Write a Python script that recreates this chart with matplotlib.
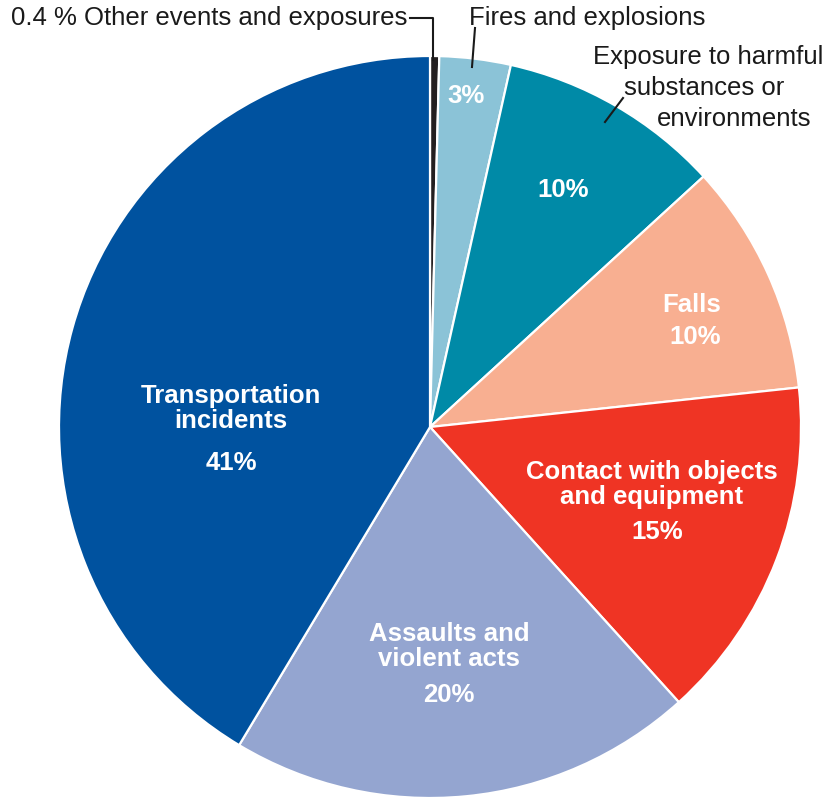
import matplotlib.pyplot as plt

# Fatal work injuries by event (share of total, %)
categories = ['Other events and exposures', 'Fires and explosions',
              'Exposure to harmful substances or environments', 'Falls',
              'Contact with objects and equipment', 'Assaults and violent acts',
              'Transportation incidents']
values = [0.4, 3.1, 9.7, 10.1, 15.0, 20.3, 41.4]
pct_labels = ['0.4 %', '3%', '10%', '10%', '15%', '20%', '41%']
colors = ['#231f20', '#8bc3d7', '#008aa7', '#f8af91', '#ef3424', '#94a5d0', '#00529f']

plt.rcParams['font.family'] = ['Liberation Sans', 'DejaVu Sans']

W, H = 831, 797
fig = plt.figure(figsize=(W / 100, H / 100), dpi=100)
ax = fig.add_axes([0, 0, 1, 1])

def py(y):
    # pixel row -> data y
    return H - y

cx, cy, r = 430, 427, 371
ax.pie(values, colors=colors, startangle=90, counterclock=False,
       center=(cx, py(cy)), radius=r, frame=True,
       wedgeprops=dict(edgecolor='white', linewidth=1.6))
ax.set_xlim(0, W)
ax.set_ylim(0, H)
ax.set_aspect('equal')
ax.axis('off')

fs = 18.5
bold = dict(color='white', fontsize=fs, fontweight='bold', ha='center', va='center')
reg = dict(color='#1a1a1a', fontsize=fs, va='center')

# labels inside the slices
ax.text(466, py(96), pct_labels[1], **bold)
ax.text(563, py(190), pct_labels[2], **bold)
ax.text(692, py(305), 'Falls', **bold)
ax.text(695, py(337), pct_labels[3], **bold)
ax.text(652, py(472), 'Contact with objects', **bold)
ax.text(652, py(497), 'and equipment', **bold)
ax.text(657, py(532), pct_labels[4], **bold)
ax.text(449, py(634), 'Assaults and', **bold)
ax.text(449, py(659), 'violent acts', **bold)
ax.text(449, py(695), pct_labels[5], **bold)
ax.text(231, py(396), 'Transportation', **bold)
ax.text(231, py(421), 'incidents', **bold)
ax.text(231, py(463), pct_labels[6], **bold)

# outside labels with leader lines
ax.text(11, py(18), pct_labels[0] + ' ' + categories[0], ha='left', **reg)
ax.plot([410, 433, 433], [py(18), py(18), py(60)], color='#1a1a1a', lw=1.5)

ax.text(469, py(18), categories[1], ha='left', **reg)
ax.plot([475, 472], [py(28), py(67)], color='#1a1a1a', lw=1.5)

ax.text(593, py(57), 'Exposure to harmful', ha='left', **reg)
ax.text(624, py(88), 'substances or', ha='left', **reg)
ax.text(657, py(119), 'environments', ha='left', **reg)
ax.plot([623, 605], [py(98), py(122)], color='#1a1a1a', lw=1.5)

fig.savefig('out.png', dpi=100)
